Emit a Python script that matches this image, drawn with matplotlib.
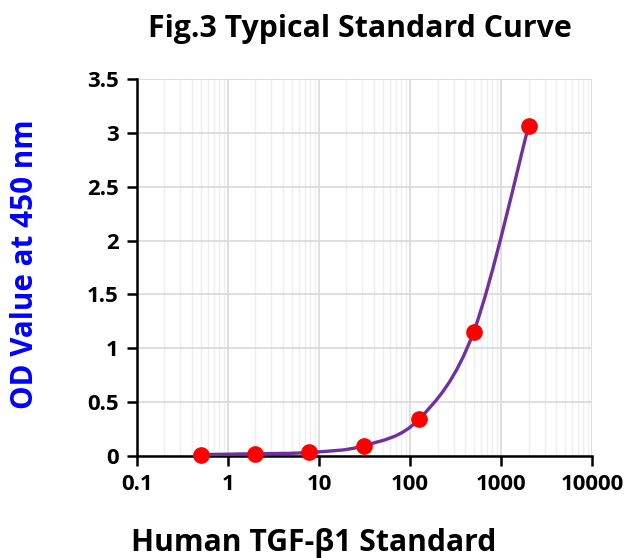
import numpy as np
import matplotlib.pyplot as plt
from matplotlib.path import Path
from matplotlib.patches import PathPatch
from matplotlib.ticker import FixedLocator, FuncFormatter, LogLocator

# Standard concentrations and measured OD values
conc = [0.5, 2, 7.8, 31.25, 125, 500, 2000]
od = [0.012, 0.02, 0.032, 0.095, 0.34, 1.155, 3.065]
x_ticks = [0.1, 1, 10, 100, 1000, 10000]
y_ticks = [0, 0.5, 1, 1.5, 2, 2.5, 3, 3.5]

plt.rcParams['font.family'] = ['Open Sans', 'DejaVu Sans']
plt.rcParams['font.weight'] = 'bold'

fig = plt.figure(figsize=(6.43, 5.58), dpi=100)
ax = fig.add_axes([0.213, 0.183, 0.708, 0.675])
ax.set_xscale('log')
ax.set_xlim(0.1, 10000)
ax.set_ylim(0, 3.5)

# smoothed line (Excel-style), bezier control points worked out in log-x space
lx = np.log10(conc)
y = np.array(od)
n = len(lx)
verts = [(conc[0], od[0])]
codes = [Path.MOVETO]
for i in range(n - 1):
    p0 = (lx[max(i - 1, 0)], y[max(i - 1, 0)])
    p1 = (lx[i], y[i])
    p2 = (lx[i + 1], y[i + 1])
    p3 = (lx[min(i + 2, n - 1)], y[min(i + 2, n - 1)])
    c1 = (p1[0] + (p2[0] - p0[0]) / 6, p1[1] + (p2[1] - p0[1]) / 6)
    c2 = (p2[0] - (p3[0] - p1[0]) / 6, p2[1] - (p3[1] - p1[1]) / 6)
    verts += [(10 ** c1[0], c1[1]), (10 ** c2[0], c2[1]), (10 ** p2[0], p2[1])]
    codes += [Path.CURVE4] * 3
curve = PathPatch(Path(verts, codes), facecolor='none', edgecolor='#7030A0',
                  lw=2.4, zorder=3, transform=ax.transData, clip_on=False)
ax.add_patch(curve)
ax.plot(conc, od, 'o', color='#FF0000', markersize=11, zorder=4, clip_on=False)

# grids
ax.grid(True, which='major', color='#d9d9d9', lw=1.2)
ax.xaxis.set_minor_locator(LogLocator(base=10, subs=np.arange(2, 10)))
ax.grid(True, which='minor', axis='x', color='#efefef', lw=1.0)
ax.set_axisbelow(True)

ax.xaxis.set_major_locator(FixedLocator(x_ticks))
ax.xaxis.set_major_formatter(FuncFormatter(lambda v, p: '%g' % v))
ax.xaxis.set_minor_formatter(FuncFormatter(lambda v, p: ''))
ax.yaxis.set_major_locator(FixedLocator(y_ticks))
ax.yaxis.set_major_formatter(FuncFormatter(lambda v, p: '%g' % v))

for s in ['top', 'right']:
    ax.spines[s].set_visible(False)
for s in ['left', 'bottom']:
    ax.spines[s].set_linewidth(1.8)
    ax.spines[s].set_color('black')
ax.tick_params(axis='both', which='major', direction='out', length=7, width=1.8,
               labelsize=16, pad=6)
ax.tick_params(axis='x', which='minor', length=0)
for lab in ax.get_xticklabels() + ax.get_yticklabels():
    lab.set_fontweight('bold')

fig.text(0.56, 0.948, 'Fig.3 Typical Standard Curve', ha='center', va='center',
         fontsize=21.8, fontweight='bold')
fig.text(0.488, 0.027, 'Human TGF-β1 Standard', ha='center', va='center',
         fontsize=21.7, fontweight='bold')
fig.text(0.039, 0.527, 'OD Value at 450 nm', ha='center', va='center', rotation=90,
         fontsize=21.3, fontweight='bold', color='#0000FF')

fig.savefig('out.png', dpi=100)
